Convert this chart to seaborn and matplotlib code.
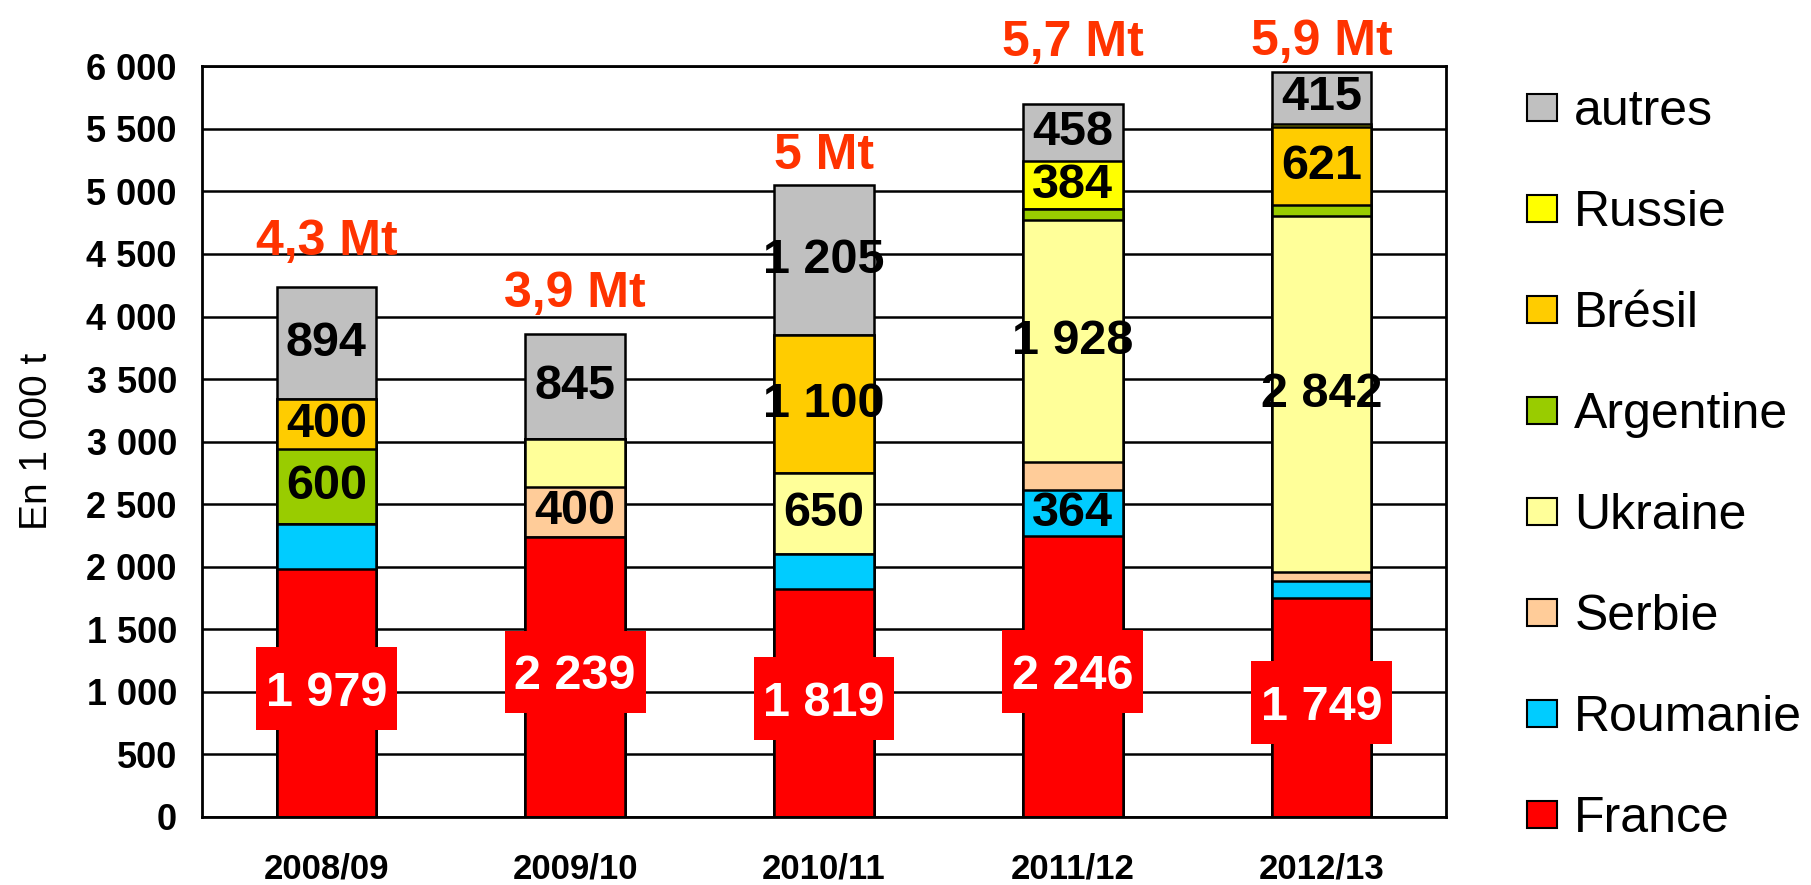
import matplotlib

matplotlib.use("Agg")
import matplotlib.pyplot as plt
import numpy as np
import seaborn as sns
from matplotlib.patches import Patch
from matplotlib.path import Path
from matplotlib.ticker import FuncFormatter, MultipleLocator

years = ["2008/09", "2009/10", "2010/11", "2011/12", "2012/13"]
totals_text = ["4,3 Mt", "3,9 Mt", "5 Mt", "5,7 Mt", "5,9 Mt"]

# stack order, bottom to top
series = ["France", "Roumanie", "Serbie", "Ukraine", "Argentine", "Brésil", "Russie", "autres"]
france = [1979, 2239, 1819, 2246, 1749]
roumanie = [360, 0, 280, 364, 135]
serbie = [0, 400, 0, 230, 75]
ukraine = [0, 380, 650, 1928, 2842]
argentine = [600, 0, 0, 90, 90]
bresil = [400, 0, 1100, 0, 621]
russie = [0, 0, 0, 384, 30]
autres = [894, 845, 1205, 458, 415]

# which segments carry a value label
show_france = [True, True, True, True, True]
show_roumanie = [False, False, False, True, False]
show_serbie = [False, True, False, False, False]
show_ukraine = [False, False, True, True, True]
show_argentine = [True, False, False, False, False]
show_bresil = [True, False, True, False, True]
show_russie = [False, False, False, True, False]
show_autres = [True, True, True, True, True]

colors = ["#FF0000", "#00CCFF", "#FFCC99", "#FFFF99", "#99CC00", "#FFCC00", "#FFFF00", "#C0C0C0"]

values = np.array([france, roumanie, serbie, ukraine, argentine, bresil, russie, autres])
shows = [show_france, show_roumanie, show_serbie, show_ukraine,
         show_argentine, show_bresil, show_russie, show_autres]

# vertical offset (points) of the total labels above each bar
total_offsets = [16, 12, 4, 27, 5]


def fmt_thousands(v):
    return f"{int(v):,}".replace(",", " ")


def tall_box(x0, y0, width, height, mutation_size):
    # box taller than wide padding, like the excel label boxes
    padx = 0.2 * mutation_size
    ptop = 0.49 * mutation_size
    pbot = 0.29 * mutation_size
    xa, xb = x0 - padx, x0 + width + padx
    ya, yb = y0 - pbot, y0 + height + ptop
    return Path([(xa, ya), (xb, ya), (xb, yb), (xa, yb), (xa, ya)], closed=True)


sns.set_style("white")
plt.rcParams["font.family"] = ["Liberation Sans", "DejaVu Sans"]
plt.rcParams["text.color"] = "black"
plt.rcParams["xtick.color"] = "black"
plt.rcParams["ytick.color"] = "black"
plt.rcParams["axes.labelcolor"] = "black"

fig = plt.figure(figsize=(18.11, 8.85), dpi=100)
ax = fig.add_axes([0.1115, 0.077, 0.687, 0.848])

cum = np.cumsum(values, axis=0)
# draw cumulative bars from the top layer down so lower layers overdraw
for k in range(len(series) - 1, -1, -1):
    sns.barplot(x=years, y=cum[k], color=colors[k], saturation=1, width=0.4,
                edgecolor="black", linewidth=1.8, ax=ax)

# value labels
for k in range(len(series)):
    for i in range(len(years)):
        if not shows[k][i]:
            continue
        v = values[k][i]
        ymid = cum[k][i] - v / 2
        if series[k] == "France":
            ax.text(i, ymid, fmt_thousands(v), ha="center", va="center",
                    fontsize=35, fontweight="bold", color="white",
                    bbox=dict(boxstyle=tall_box, facecolor="#FF0000",
                              edgecolor="none"))
        else:
            ax.text(i, ymid, fmt_thousands(v), ha="center", va="center",
                    fontsize=35, fontweight="bold", color="black")

totals = cum[-1]
for i, t in enumerate(totals_text):
    ax.annotate(t, (i, totals[i]), xytext=(0, total_offsets[i]),
                textcoords="offset points", ha="center", va="bottom",
                fontsize=36, fontweight="bold", color="#FF3300",
                annotation_clip=False)

ax.set_ylim(0, 6000)
ax.set_xlim(-0.5, len(years) - 0.5)
ax.yaxis.set_major_locator(MultipleLocator(500))
ax.yaxis.set_major_formatter(FuncFormatter(lambda v, p: fmt_thousands(v)))
ax.grid(axis="y", color="black", linewidth=1.8)
ax.set_axisbelow(True)
for s in ax.spines.values():
    s.set_color("black")
    s.set_linewidth(2)

ax.tick_params(axis="y", length=0, pad=18, labelsize=26)
ax.tick_params(axis="x", length=0, pad=26, labelsize=25)
for lab in ax.get_yticklabels() + ax.get_xticklabels():
    lab.set_fontweight("bold")
ax.set_xlabel("")
ax.set_ylabel("En 1 000 t", fontsize=28)
ax.yaxis.set_label_coords(-0.118, 0.5)

handles = [Patch(facecolor=colors[k], edgecolor="black", linewidth=1.5, label=series[k])
           for k in range(len(series) - 1, -1, -1)]
fig.legend(handles=handles, loc="upper left", bbox_to_anchor=(0.832, 0.922),
           frameon=False, fontsize=36, handlelength=0.6, handleheight=0.46,
           handletextpad=0.35, labelspacing=1.1, borderaxespad=0)

fig.savefig("out.png", dpi=100)
